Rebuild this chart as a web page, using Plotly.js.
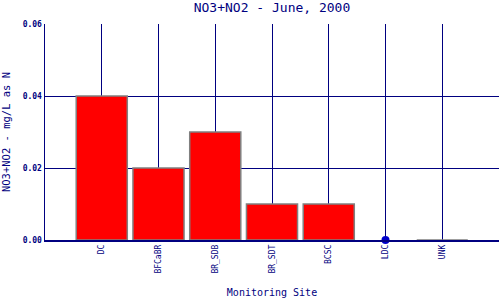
<!DOCTYPE html>
<html><head><meta charset="utf-8">
<script src="https://cdn.plot.ly/plotly-3.0.1.min.js"></script>
<style>html,body{margin:0;padding:0;background:#fff}#chart{width:500px;height:300px}</style>
</head><body><div id="chart"></div>
<script>
var sites = ["DC", "BFCaBR", "BR_SDB", "BR_SDT", "BCSC", "LDC", "UNK"];
var barValues = [0.04, 0.02, 0.03, 0.01, 0.01, null, 0];
var pointSites = ["LDC"];
var pointValues = [0];
var yTicks = [0, 0.02, 0.04, 0.06];
var yTickLabels = ["0.00", "0.02", "0.04", "0.06"];

var navy = "#000080";
var fontFam = "DejaVu Sans Mono, monospace";

var traces = [
  {type: "bar", x: sites, y: barValues, width: 0.9,
   marker: {color: "#ff0000", line: {color: "#808080", width: 1.5}},
   hoverinfo: "none", cliponaxis: false},
  {type: "scatter", mode: "markers", x: pointSites, y: pointValues,
   marker: {color: "#0000cc", size: 8}, cliponaxis: false, hoverinfo: "none"}
];

var layout = {
  width: 500, height: 300,
  margin: {l: 45, r: 1, t: 24, b: 60},
  paper_bgcolor: "#ffffff", plot_bgcolor: "#ffffff",
  showlegend: false,
  bargap: 0.1,
  title: {text: "NO3+NO2 - June, 2000", x: 0.544, xanchor: "center", y: 0.975, yanchor: "middle",
          font: {family: fontFam, size: 13, color: navy}},
  xaxis: {
    type: "category", categoryorder: "array", categoryarray: sites,
    range: [-1, 7], tickangle: -90, ticks: "",
    showgrid: true, gridcolor: navy, gridwidth: 1,
    showline: true, linecolor: navy, linewidth: 1.5, mirror: false,
    tickfont: {family: fontFam, size: 8, color: navy},
    title: {text: "Monitoring Site", standoff: 16, font: {family: fontFam, size: 10, color: navy}},
    zeroline: false, fixedrange: true
  },
  yaxis: {
    range: [0, 0.06], tickvals: yTicks, ticktext: yTickLabels, ticks: "",
    showgrid: true, gridcolor: navy, gridwidth: 1,
    showline: true, linecolor: navy, linewidth: 1.5,
    tickfont: {family: fontFam, size: 8, color: navy, weight: "bold"},
    title: {text: "NO3+NO2 - mg/L as N", standoff: 12, font: {family: fontFam, size: 10.5, color: navy}},
    zeroline: false, fixedrange: true
  }
};

Plotly.newPlot("chart", traces, layout, {staticPlot: true, displayModeBar: false});
</script></body></html>
